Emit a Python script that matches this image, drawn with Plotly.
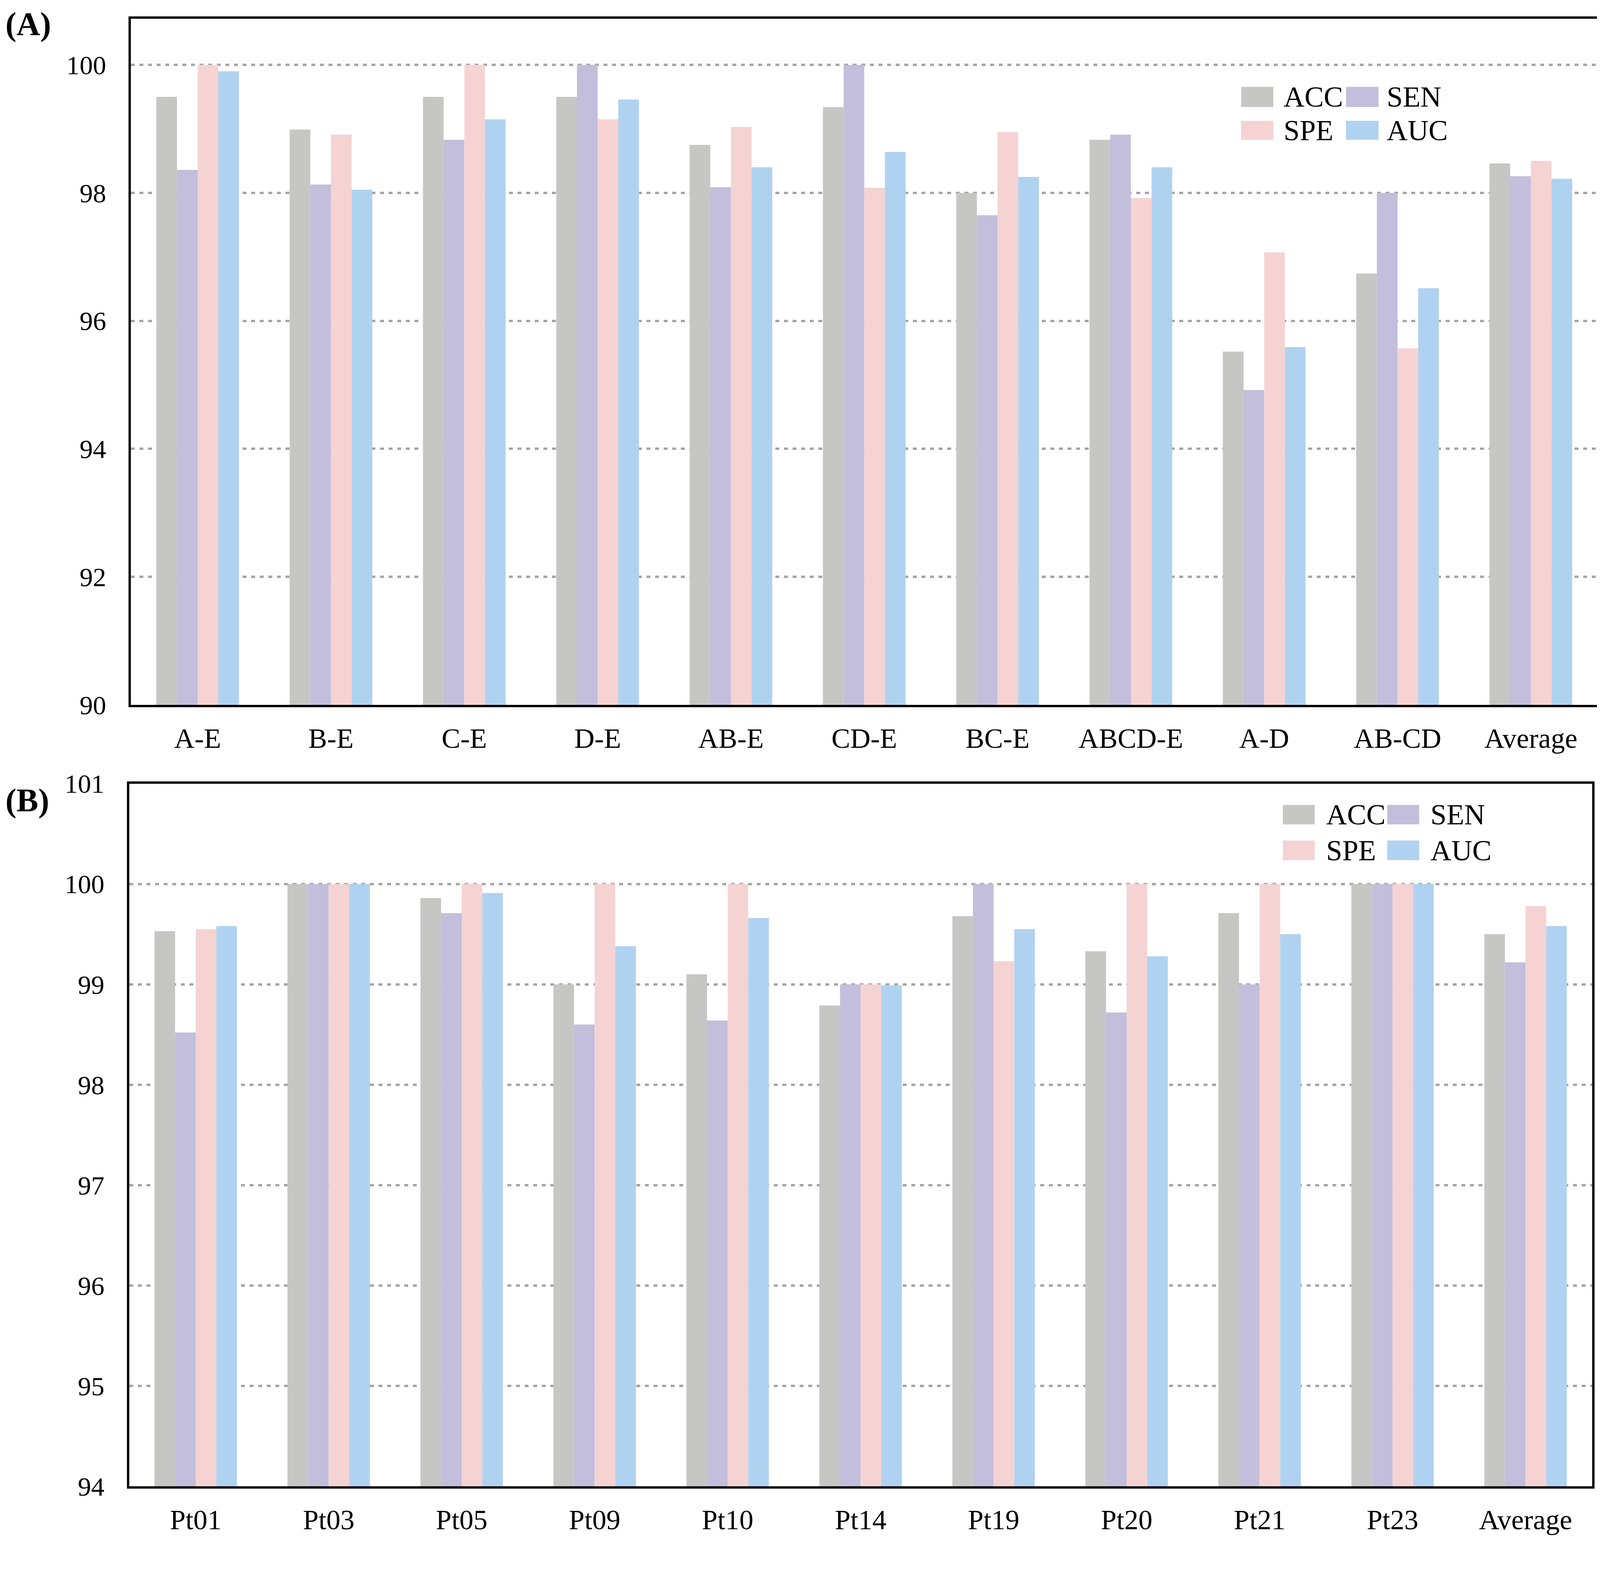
import plotly.graph_objects as go

metrics = ["ACC", "SEN", "SPE", "AUC"]
colors = ["#c6c6c4", "#c2bedb", "#f6d3d3", "#b0d2f1"]

cats_a = ["A-E", "B-E", "C-E", "D-E", "AB-E", "CD-E", "BC-E", "ABCD-E", "A-D", "AB-CD", "Average"]
acc_a = [99.50, 98.99, 99.50, 99.50, 98.75, 99.34, 98.00, 98.83, 95.52, 96.74, 98.46]
sen_a = [98.36, 98.13, 98.83, 100.0, 98.09, 100.0, 97.65, 98.91, 94.92, 98.00, 98.26]
spe_a = [100.0, 98.91, 100.0, 99.15, 99.03, 98.08, 98.95, 97.92, 97.07, 95.57, 98.50]
auc_a = [99.90, 98.05, 99.15, 99.46, 98.40, 98.64, 98.25, 98.40, 95.59, 96.51, 98.22]

cats_b = ["Pt01", "Pt03", "Pt05", "Pt09", "Pt10", "Pt14", "Pt19", "Pt20", "Pt21", "Pt23", "Average"]
acc_b = [99.53, 100.0, 99.86, 99.00, 99.10, 98.79, 99.68, 99.33, 99.71, 100.0, 99.50]
sen_b = [98.52, 100.0, 99.71, 98.60, 98.64, 99.00, 100.0, 98.72, 99.00, 100.0, 99.22]
spe_b = [99.55, 100.0, 100.0, 100.0, 100.0, 99.00, 99.23, 100.0, 100.0, 100.0, 99.78]
auc_b = [99.58, 100.0, 99.91, 99.38, 99.66, 98.99, 99.55, 99.28, 99.50, 100.0, 99.58]

series_a = [acc_a, sen_a, spe_a, auc_a]
series_b = [acc_b, sen_b, spe_b, auc_b]

FONT = "Liberation Serif"
W, H = 4197, 4030

fig = go.Figure()
for name, col, vals in zip(metrics, colors, series_a):
    fig.add_trace(go.Bar(x=cats_a, y=vals, name=name, marker=dict(color=col, line=dict(width=0)),
                         xaxis="x", yaxis="y", showlegend=False))
for name, col, vals in zip(metrics, colors, series_b):
    fig.add_trace(go.Bar(x=cats_b, y=vals, name=name, marker=dict(color=col, line=dict(width=0)),
                         xaxis="x2", yaxis="y2", showlegend=False))

axis_common = dict(showline=True, linecolor="black", linewidth=6, mirror=True, ticks="")
xfont = dict(family=FONT, size=72, color="black")
yfont = dict(family=FONT, size=68, color="black")
grid = dict(showgrid=True, gridcolor="#a4a4a4", gridwidth=6, griddash="10px,12px")

fig.update_layout(
    width=W, height=H,
    margin=dict(l=0, r=0, t=0, b=0),
    paper_bgcolor="white", plot_bgcolor="white",
    barmode="group", bargap=0.38, bargroupgap=0,
    showlegend=False,
    xaxis=dict(domain=[0.0780, 0.9725], anchor="y", ticklabelstandoff=18, tickfont=xfont, **axis_common),
    yaxis=dict(domain=[0.5549, 0.9992], anchor="x", range=[90, 100.72], tick0=90, dtick=2,
               ticklabelstandoff=44, tickfont=yfont, **grid, **axis_common),
    xaxis2=dict(domain=[0.0769, 0.9692], anchor="y2", ticklabelstandoff=18, tickfont=xfont, **axis_common),
    yaxis2=dict(domain=[0.0488, 0.5039], anchor="x2", range=[94, 101], tick0=94, dtick=1,
                ticklabelstandoff=44, tickfont=yfont, **grid, **axis_common),
)

# panel labels
fig.add_annotation(text="<b>(A)</b>", x=0.001, y=0.9956, xref="paper", yref="paper",
                   xanchor="left", yanchor="middle", showarrow=False,
                   font=dict(family=FONT, size=84, color="black"))
fig.add_annotation(text="<b>(B)</b>", x=0.001, y=0.4930, xref="paper", yref="paper",
                   xanchor="left", yanchor="middle", showarrow=False,
                   font=dict(family=FONT, size=84, color="black"))

# legends (2x2 grid) drawn in axis-domain coordinates
legend_layout = {
    "A": dict(xr="x domain", yr="y domain",
              sw_x=[(0.757, 0.779), (0.8285, 0.8507)],
              tx_x=[0.7854, 0.8557],
              rows=[(0.8714, 0.9008), (0.8237, 0.8514)]),
    "B": dict(xr="x2 domain", yr="y2 domain",
              sw_x=[(0.7886, 0.8104), (0.860, 0.8818)],
              tx_x=[0.8177, 0.889],
              rows=[(0.942, 0.9696), (0.891, 0.919)]),
}
for key, L in legend_layout.items():
    for i, (name, col) in enumerate(zip(metrics, colors)):
        r, c = divmod(i, 2)
        y0, y1 = L["rows"][r]
        x0, x1 = L["sw_x"][c]
        fig.add_shape(type="rect", xref=L["xr"], yref=L["yr"], x0=x0, x1=x1, y0=y0, y1=y1,
                      fillcolor=col, line=dict(width=0), layer="above")
        fig.add_annotation(text=name, x=L["tx_x"][c], y=(y0 + y1) / 2, xref=L["xr"], yref=L["yr"],
                           xanchor="left", yanchor="middle", showarrow=False,
                           font=dict(family=FONT, size=74, color="black"))

fig.write_html("out.html")
